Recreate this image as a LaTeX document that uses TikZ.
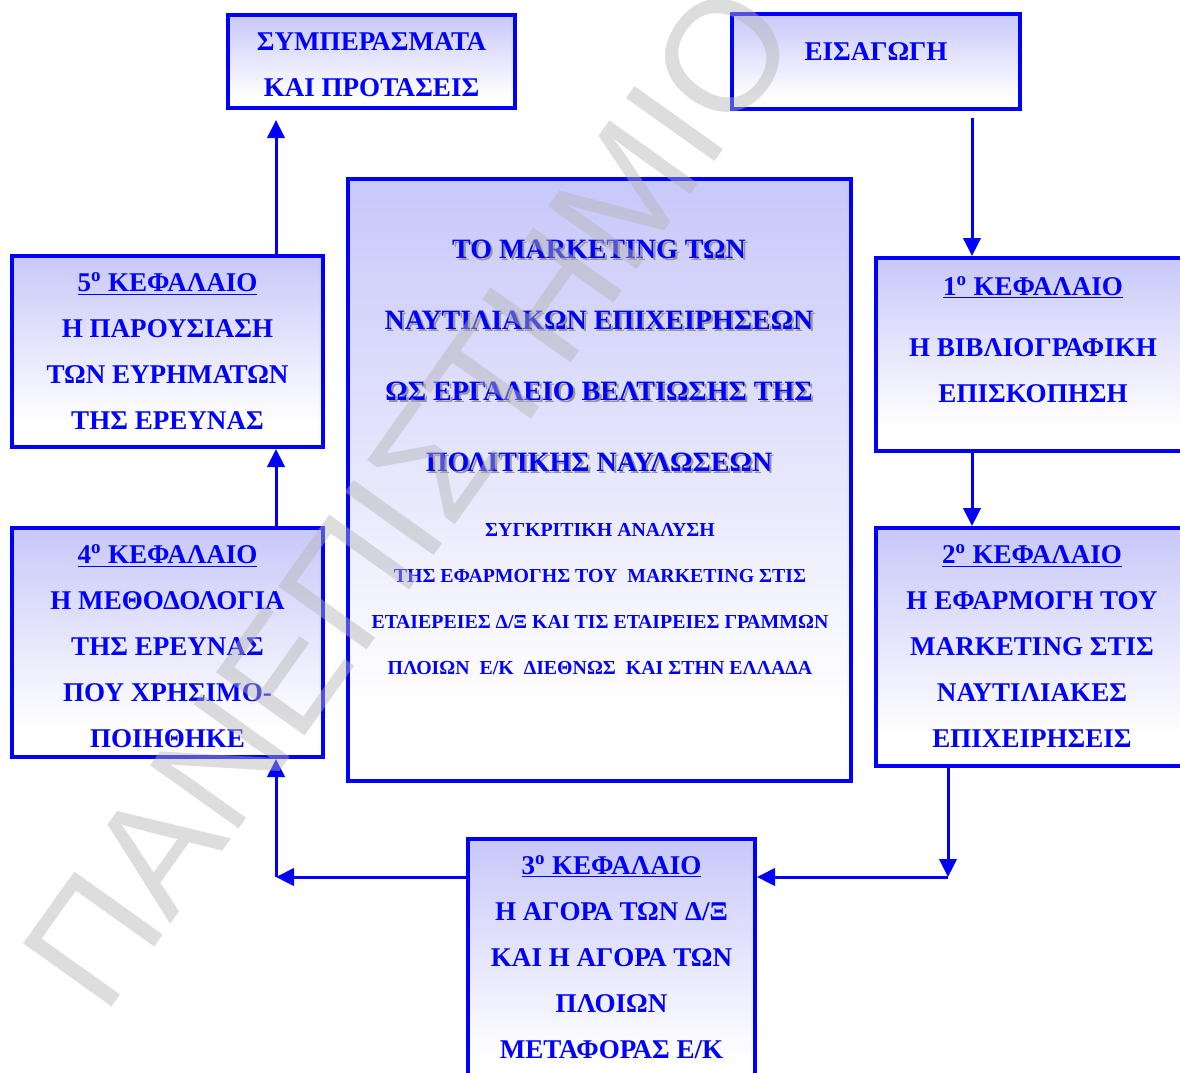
\documentclass[tikz,border=0pt]{standalone}
\usepackage{fontspec}
\setmainfont{Liberation Serif}
\newfontfamily\wmfont{Liberation Sans}
\usetikzlibrary{arrows.meta}

\definecolor{inkblue}{RGB}{0,0,255}
\definecolor{boxtop}{RGB}{200,200,250}
\definecolor{shadowgray}{RGB}{150,150,150}
\definecolor{wmgray}{RGB}{180,180,180}

% lavender at the top fading to white near the bottom
\pgfdeclareverticalshading{lavfade}{100bp}{color(0bp)=(white); color(25bp)=(white); color(31bp)=(white); color(75bp)=(boxtop); color(100bp)=(boxtop)}

% text with a grey drop shadow
\newcommand\shadowed[1]{\leavevmode\rlap{\hspace{1.6pt}\raisebox{-1.6pt}{\textcolor{shadowgray}{#1}}}#1}
% chapter heading
\newcommand\chap[1]{\underline{#1\textsuperscript{o} ΚΕΦΑΛΑΙΟ}}

\begin{document}
\begin{tikzpicture}[x=0.75pt,y=-0.75pt,
  box/.style 2 args={rectangle, draw=inkblue, line width=3pt, shading=lavfade,
    inner sep=0pt, minimum width={#1*0.75pt}, minimum height={#2*0.75pt}},
  label/.style={text=inkblue, font=\bfseries\fontsize{20.3}{34.5}\selectfont,
    align=center, inner sep=0pt},
  title/.style={text=inkblue, font=\bfseries\fontsize{21}{53.25}\selectfont,
    align=center, inner sep=0pt},
  subtitle/.style={text=inkblue, font=\bfseries\fontsize{14.9}{34.5}\selectfont,
    align=center, inner sep=0pt},
  arr/.style={draw=inkblue, line width=2.25pt, -{Triangle[length=13.5pt,width=13pt]}},
  wm/.style={text=wmgray, text opacity=0.45, inner sep=0pt,
    font=\wmfont\fontsize{118.5}{120}\selectfont}]

\useasboundingbox (0,0) rectangle (1180,1072);
\clip (0,0) rectangle (1180,1072);

% boxes
\node[box={287}{93}]  (concl) at (371.5,61.5) {};
\node[box={288}{95}]  (intro) at (876,61.5) {};
\node[box={503}{602}] (main)  at (599.5,480) {};
\node[box={311}{191}] (b5)    at (167.5,351.5) {};
\node[box={311}{229}] (b4)    at (167.5,642.5) {};
\node[box={312}{193}] (b1)    at (1032,354.5) {};
\node[box={312}{238}] (b2)    at (1032,647) {};
\node[box={287}{250}] (b3)    at (611.5,964) {};

% texts
\node[label] (concl-t) at (371.5,64.5) {ΣΥΜΠΕΡΑΣΜΑΤΑ\\ΚΑΙ ΠΡΟΤΑΣΕΙΣ};
\node[label] (intro-t) at (876,52) {ΕΙΣΑΓΩΓΗ};
\node[label] (b5-t) at (167.5,351.5) {\chap{5}\\Η ΠΑΡΟΥΣΙΑΣΗ\\ΤΩΝ ΕΥΡΗΜΑΤΩΝ\\ΤΗΣ ΕΡΕΥΝΑΣ};
\node[label] (b4-t) at (167.5,646.5) {\chap{4}\\Η ΜΕΘΟΔΟΛΟΓΙΑ\\ΤΗΣ ΕΡΕΥΝΑΣ\\ΠΟΥ ΧΡΗΣΙΜΟ-\\ΠΟΙΗΘΗΚΕ};
\node[label] (b1-t) at (1033,339.5) {\chap{1}\\[11.5pt]Η ΒΙΒΛΙΟΓΡΑΦΙΚΗ\\ΕΠΙΣΚΟΠΗΣΗ};
\node[label] (b2-t) at (1032,646.5) {\chap{2}\\Η ΕΦΑΡΜΟΓΗ ΤΟΥ\\MARKETING ΣΤΙΣ\\ΝΑΥΤΙΛΙΑΚΕΣ\\ΕΠΙΧΕΙΡΗΣΕΙΣ};
\node[label] (b3-t) at (611.5,957) {\chap{3}\\Η ΑΓΟΡΑ ΤΩΝ Δ/Ξ\\ΚΑΙ Η ΑΓΟΡΑ ΤΩΝ\\ΠΛΟΙΩΝ\\ΜΕΤΑΦΟΡΑΣ Ε/Κ};

\node[title] (main-t) at (599,356.5) {\shadowed{ΤΟ MARKETING ΤΩΝ}\\\shadowed{ΝΑΥΤΙΛΙΑΚΩΝ ΕΠΙΧΕΙΡΗΣΕΩΝ}\\\shadowed{ΩΣ ΕΡΓΑΛΕΙΟ ΒΕΛΤΙΩΣΗΣ ΤΗΣ}\\\shadowed{ΠΟΛΙΤΙΚΗΣ ΝΑΥΛΩΣΕΩΝ}};
\node[subtitle] (main-s) at (600,599) {ΣΥΓΚΡΙΤΙΚΗ ΑΝΑΛΥΣΗ\\ΤΗΣ ΕΦΑΡΜΟΓΗΣ ΤΟΥ\ \ MARKETING ΣΤΙΣ\\ΕΤΑΙΕΡΕΙΕΣ Δ/Ξ ΚΑΙ ΤΙΣ ΕΤΑΙΡΕΙΕΣ ΓΡΑΜΜΩΝ\\ΠΛΟΙΩΝ\ \ Ε/Κ\ \ ΔΙΕΘΝΩΣ\ \ ΚΑΙ ΣΤΗΝ ΕΛΛΑΔΑ};

% connector bends and free ends
\coordinate (p1) at (972,118);
\coordinate (p2) at (276,120);
\coordinate (c1) at (948,877);
\coordinate (c2) at (276,877);

% connectors
\draw[arr] (p1) -- (p1 |- b1.north);
\draw[arr] (p1 |- b1.south) -- (p1 |- b2.north);
\draw[arr] (c1 |- b2.south) -- (c1);
\draw[arr] (c1) -- (c1 -| b3.east);
\draw[arr] (c2 -| b3.west) -- (c2);
\draw[arr] (c2) -- (c2 |- b4.south);
\draw[arr] (c2 |- b4.north) -- (c2 |- b5.south);
\draw[arr] (c2 |- b5.north) -- (p2);

% watermark
\node[wm, anchor=base west, rotate=54.5] (wmark) at (104,1018) {ΠΑΝΕΠΙΣΤΗΜΙΟ};
\end{tikzpicture}
\end{document}
